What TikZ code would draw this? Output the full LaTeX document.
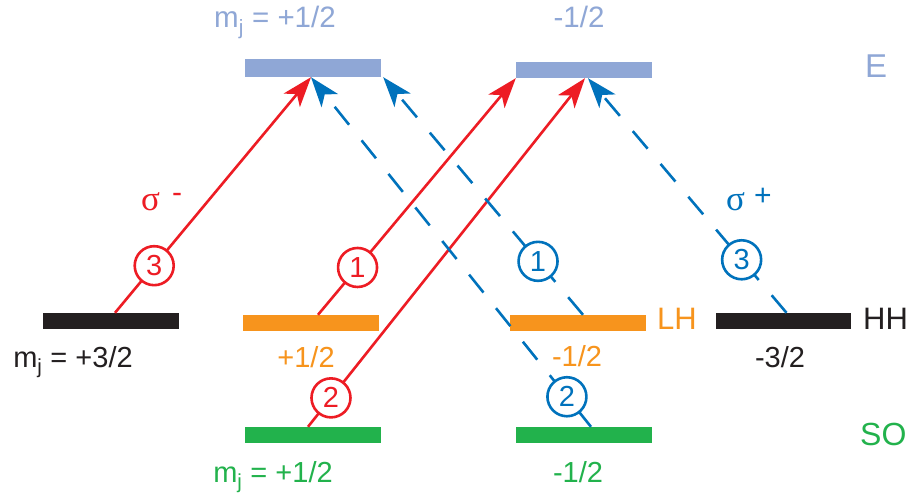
\documentclass[tikz,border=0pt]{standalone}
\usepackage{fontspec}
\setmainfont{Liberation Sans}
\newfontfamily\greekfont{Liberation Serif}
\usetikzlibrary{arrows.meta}
\definecolor{cE}{HTML}{8FA7D6}
\definecolor{cRed}{HTML}{ED1C24}
\definecolor{cBlue}{HTML}{0072BC}
\definecolor{cLH}{HTML}{F7941D}
\definecolor{cSO}{HTML}{22B24C}
\definecolor{cHH}{HTML}{231F20}

\begin{document}
\begin{tikzpicture}[x=1pt,y=-1pt,
  level/.style={rectangle, inner sep=0pt, minimum width=136pt, minimum height=16pt, draw=none},
  lbl/.style={inner sep=0pt, anchor=base, font=\fontsize{29}{29}\selectfont},
  toplbl/.style={inner sep=0pt, anchor=base, font=\fontsize{29.5}{29.5}\selectfont, text=cE},
  band/.style={inner sep=0pt, anchor=base west, font=\fontsize{31}{31}\selectfont},
  pol/.style={inner sep=0pt, anchor=base west, font=\fontsize{30}{30}\selectfont},
  tip/.tip={Stealth[length=30pt,width=21pt,inset=8pt]},
  trans/.style={line width=2.6pt, -tip},
  sigm/.style={trans, draw=cRed},
  sigp/.style={trans, draw=cBlue, dash pattern=on 23pt off 20pt},
  num/.style={circle, solid, line width=2.6pt, fill=white, minimum size=39pt, inner sep=0pt,
              font=\fontsize{29}{29}\selectfont},
]
% canvas
\fill[white] (0,0) rectangle (916,500);
\useasboundingbox (0,0) rectangle (916,500);

% energy levels
\node[level, fill=cE, minimum height=18pt] (eL) at (313,68) {};
\node[level, fill=cE] (eR) at (584,70) {};
\node[level, fill=cHH] (hhL) at (111,321) {};
\node[level, fill=cLH] (lhL) at (311,323) {};
\node[level, fill=cSO] (soL) at (313,435) {};
\node[level, fill=cLH] (lhR) at (578,323) {};
\node[level, fill=cSO] (soR) at (584,435) {};
\node[level, fill=cHH, minimum width=135pt] (hhR) at (783.5,321) {};

% level labels
\node[toplbl] (tE1) at (275,28) {m\textsubscript{j} = +1/2};
\node[toplbl] (tE2) at (579,28) {-1/2};
\node[lbl, text=cHH] (tH1) at (73,367) {m\textsubscript{j} = +3/2};
\node[lbl, text=cLH] (tL1) at (306,367) {+1/2};
\node[lbl, text=cLH] (tL2) at (577,366) {-1/2};
\node[lbl, text=cHH] (tH2) at (780,367) {-3/2};
\node[lbl, text=cSO] (tS1) at (273,482) {m\textsubscript{j} = +1/2};
\node[lbl, text=cSO] (tS2) at (578,482) {-1/2};

% band names
\node[band, text=cE, font=\fontsize{33}{33}\selectfont] (bE) at (865,78) {E};
\node[band, text=cLH] (bLH) at (657,329) {LH};
\node[band, text=cHH] (bHH) at (863,329) {HH};
\node[band, text=cSO, font=\fontsize{32}{32}\selectfont] (bSO) at (860,445) {SO};

% polarisation labels
\node[pol, text=cRed] (pm) at (141,210) {{\greekfont\fontsize{35}{35}\selectfont σ}\hspace{12pt}\raisebox{8pt}{-}};
\node[pol, text=cBlue] (pp) at (726,210) {{\greekfont\fontsize{35}{35}\selectfont σ}\hspace{9pt}\raisebox{5pt}{+}};

% sigma- transitions (solid red)
\draw[sigm] ([xshift=4pt]hhL.north) -- node[num, draw=cRed, text=cRed, pos=0.2] (r3) {3} ([xshift=-2pt]eL.south);
\draw[sigm] ([xshift=7pt]lhL.north) -- node[num, draw=cRed, text=cRed, pos=0.2] (r1) {1} (eR.south west);
\draw[sigm] ([xshift=-5pt]soL.north) -- node[num, draw=cRed, text=cRed, pos=0.083] (r2) {2} ([xshift=1pt]eR.south);

% sigma+ transitions (dashed blue)
\draw[sigp] ([xshift=5pt]lhR.north) -- node[num, draw=cBlue, text=cBlue, pos=0.225] (b1) {1} ([xshift=2pt]eL.south east);
\draw[sigp] ([xshift=7pt]soR.north) -- node[num, draw=cBlue, text=cBlue, pos=0.086] (b2) {2} ([xshift=-2pt]eL.south);
\draw[sigp] ([xshift=3pt]hhR.north) -- node[num, draw=cBlue, text=cBlue, pos=0.226] (b3) {3} ([xshift=4pt]eR.south);
\end{tikzpicture}
\end{document}
